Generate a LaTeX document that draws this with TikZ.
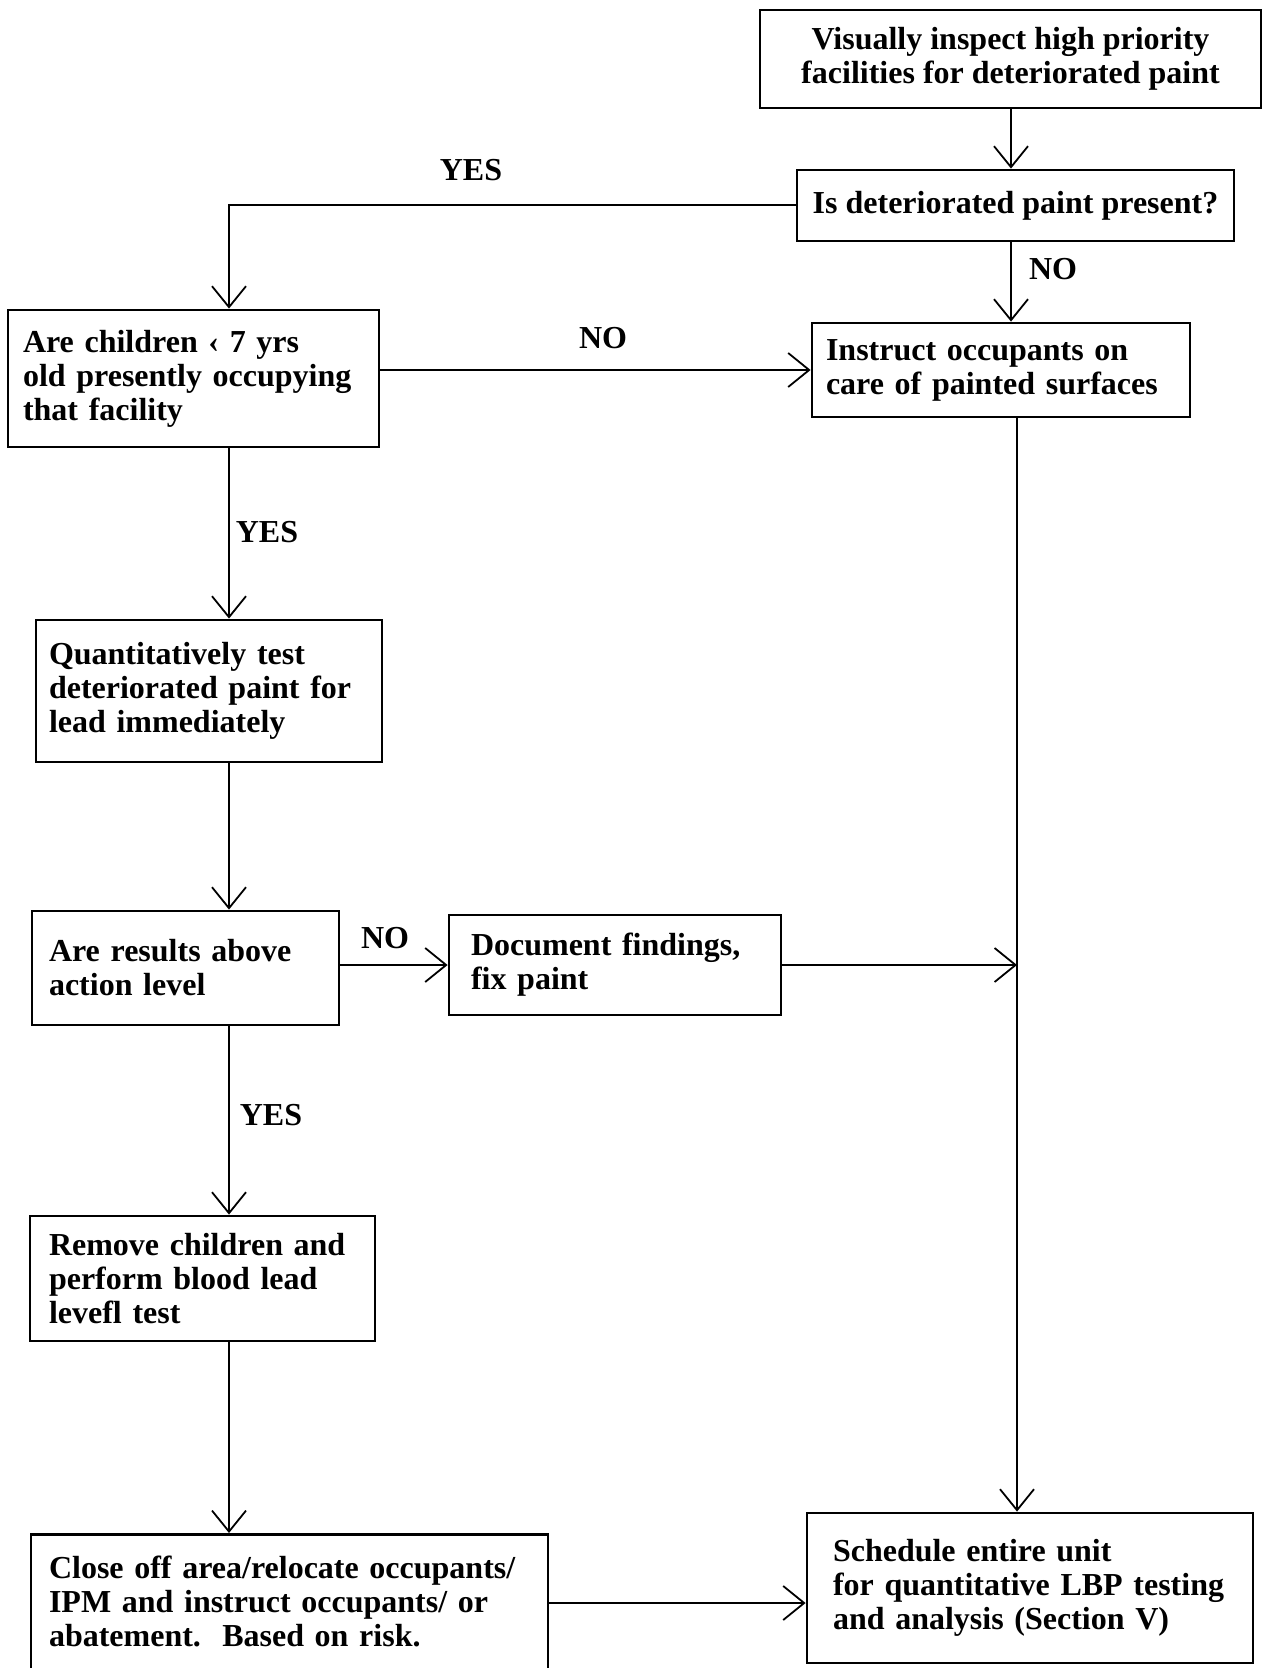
\documentclass[tikz,border=0pt]{standalone}
\usepackage{fontspec}
\setmainfont{Liberation Serif}
\usetikzlibrary{arrows.meta,calc}

\begin{document}
\begin{tikzpicture}[x=0.5pt,y=-0.5pt,
  box/.style={draw, line width=1.4pt, inner ysep=0pt, align=left,
    font=\bfseries\fontsize{16}{17}\selectfont},
  flow/.style={line width=1pt,
    -{Straight Barb[length=10.5pt,width=17pt,line width=0.9pt]}},
  tag/.style={font=\bfseries\fontsize{16}{17}\selectfont, inner sep=0pt}]

\useasboundingbox (0,0) rectangle (1263,1668);

% column guides for the vertical connectors
\coordinate (colL) at (229,0);
\coordinate (colT) at (1011,0);
\coordinate (colR) at (1017,0);

% process boxes
\node[box, align=center, minimum width=250.5pt, minimum height=49pt]
  (top) at (1010.5,59) {Visually inspect high priority\\facilities for deteriorated paint};
\node[box, align=center, minimum width=218.5pt, minimum height=35.5pt]
  (det) at (1015.5,205.5) {Is deteriorated paint present?};
\node[box, text width=170.5pt, inner xsep=7.5pt, minimum height=68.5pt]
  (child) at (193.5,378.5) {Are children ‹ 7 yrs\\old presently occupying\\that facility};
\node[box, text width=175pt, inner xsep=7pt, minimum height=47pt]
  (instr) at (1001,370) {Instruct occupants on\\care of painted surfaces};
\node[box, text width=160pt, inner xsep=6.5pt, minimum height=71pt]
  (quant) at (209,691) {Quantitatively test\\deteriorated paint for\\lead immediately};
\node[box, text width=136.5pt, inner xsep=8.5pt, minimum height=57pt]
  (results) at (185.5,968) {Are results above\\action level};
\node[box, text width=144pt, inner xsep=11pt, minimum height=50pt]
  (doc) at (615,965) {Document findings,\\fix paint};
\node[box, text width=153.5pt, inner xsep=9.5pt, minimum height=62.5pt]
  (remove) at (202.5,1278.5) {Remove children and\\perform blood lead\\levefl test};
% this box runs on past the lower edge of the page
\node[box, anchor=north, text width=240.5pt, inner xsep=9pt, inner ysep=11pt, text depth=60pt]
  (close) at (289.5,1533) {Close off area/relocate occupants/\\IPM and instruct occupants/ or\\abatement.\ \ Based on risk.};
\node[box, text width=197pt, inner xsep=13pt, minimum height=75pt]
  (sched) at (1030,1588) {Schedule entire unit\\for quantitative LBP testing\\and analysis (Section V)};

% connectors
\draw[flow] (colT |- top.south) -- (colT |- det.north);
\draw[flow] (det.west) -| (colL |- child.north);
\draw[flow] (colT |- det.south) -- (colT |- instr.north);
\draw[flow] (child.east |- instr.west) -- (instr.west);
\draw[flow] (colL |- child.south) -- (colL |- quant.north);
\draw[flow] (colL |- quant.south) -- (colL |- results.north);
\draw[flow] (results.east |- doc.west) -- (doc.west);
\draw[flow] (doc.east) -- (colR |- doc.east);
\draw[flow] (colR |- instr.south) -- (colR |- sched.north);
\draw[flow] (colL |- results.south) -- (colL |- remove.north);
\draw[flow] (colL |- remove.south) -- (colL |- close.north);
\draw[flow] (close.east |- 0,1603) -- (sched.west |- 0,1603);

% branch labels
\node[tag] (yesA) at (471,170) {YES};
\node[tag] (noA) at (1053,269) {NO};
\node[tag] (noB) at (603,338) {NO};
\node[tag] (yesB) at (267,532) {YES};
\node[tag] (noC) at (385,938) {NO};
\node[tag] (yesC) at (271,1115) {YES};
\end{tikzpicture}
\end{document}
